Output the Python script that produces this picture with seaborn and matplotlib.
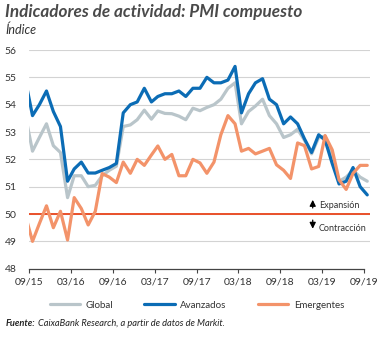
import numpy as np
import pandas as pd
import matplotlib
matplotlib.use("Agg")
import matplotlib.pyplot as plt
import matplotlib.dates as mdates
import seaborn as sns
from matplotlib.lines import Line2D

# ---- data (monthly, Aug 2015 .. Sep 2019) ----
months = pd.date_range("2015-08-01", "2019-09-01", freq="MS")
global_vals = [53.6, 52.3, 52.8, 53.3, 52.5, 52.25, 50.6, 51.4, 51.4, 51.0,
               51.05, 51.4, 51.6, 51.75, 53.2, 53.26, 53.45, 53.8, 53.47, 53.77,
               53.68, 53.67, 53.58, 53.45, 53.87, 53.78, 53.9, 54.0, 54.2, 54.6,
               54.8, 53.3, 53.75, 53.95, 54.2, 53.6, 53.3, 52.8, 52.9, 53.1,
               52.7, 52.2, 52.8, 52.85, 52.05, 51.2, 51.35, 51.6, 51.35, 51.2]
avanzados = [54.9, 53.6, 54.0, 54.5, 53.75, 53.2, 51.2, 51.65, 51.9, 51.5,
             51.5, 51.6, 51.7, 51.85, 53.7, 54.0, 54.1, 54.6, 54.1, 54.3,
             54.4, 54.4, 54.5, 54.3, 54.6, 54.6, 55.0, 54.8, 54.8, 54.9,
             55.4, 53.7, 54.4, 54.8, 54.95, 54.2, 54.0, 53.3, 53.55, 53.3,
             52.75, 52.25, 52.9, 52.7, 51.85, 51.1, 51.2, 51.7, 51.0, 50.7]
emergentes = [49.95, 49.0, 49.65, 50.3, 49.5, 50.1, 49.05, 50.6, 50.2, 49.6,
              50.1, 51.48, 51.35, 51.15, 51.9, 51.49, 52.0, 51.78, 52.16, 52.49,
              52.0, 52.18, 51.4, 51.4, 52.0, 51.87, 51.49, 51.9, 52.9, 53.6,
              53.3, 52.3, 52.4, 52.2, 52.3, 52.4, 51.8, 51.6, 51.3, 52.6,
              52.5, 51.65, 51.74, 52.87, 52.35, 51.25, 50.9, 51.49, 51.78, 51.78]
tick_dates = pd.date_range("2015-09-01", "2019-09-01", freq="6MS")
tick_labels = ["09/15", "03/16", "09/16", "03/17", "09/17", "03/18", "09/18", "03/19", "09/19"]
y_ticks = [48, 49, 50, 51, 52, 53, 54, 55, 56]
series_names = ["Global", "Avanzados", "Emergentes"]
threshold = 50

# ---- styling ----
sns.set_theme(style="white")
plt.rcParams["font.family"] = ["Lato", "DejaVu Sans"]

c_grey = "#b9c5ca"
c_blue = "#0b6cb5"
c_orange = "#f3936a"
c_red = "#e9502a"
c_text = "#333333"

dates = months + pd.Timedelta(days=14)
df = pd.DataFrame({"fecha": dates, "Global": global_vals,
                   "Avanzados": avanzados, "Emergentes": emergentes})
long = df.melt(id_vars="fecha", var_name="serie", value_name="valor")

fig = plt.figure(figsize=(3.84, 3.38), dpi=100)
ax = fig.add_axes([29.3 / 384, 1 - 268.7 / 338, (370 - 29.3) / 384, (268.7 - 50) / 338])

for y in y_ticks[1:]:
    ax.axhline(y, color="#d3d3d3", lw=0.8, zorder=0)
ax.axhline(threshold, color=c_red, lw=1.4, zorder=1)

sns.lineplot(data=long, x="fecha", y="valor", hue="serie",
             hue_order=series_names,
             palette={"Global": c_grey, "Avanzados": c_blue, "Emergentes": c_orange},
             lw=2.3, ax=ax, legend=False, zorder=3)

ax.set_ylim(48, 56)
ax.set_xlim(pd.Timestamp("2015-09-01"), pd.Timestamp("2019-09-27"))
ax.set_yticks(y_ticks)
ax.set_yticklabels([str(v) for v in y_ticks], fontsize=7.5, color=c_text, ha="right")
ax.tick_params(axis="y", length=0, pad=9)
ax.set_xticks(tick_dates)
ax.set_xticklabels(tick_labels, fontsize=7.5, color=c_text)
ax.tick_params(axis="x", length=3, width=0.8, color="#444444", direction="out", pad=3, bottom=True)
ax.set_xlabel("")
ax.set_ylabel("")
for s in ["left", "right", "top"]:
    ax.spines[s].set_visible(False)
ax.spines["bottom"].set_color("#444444")
ax.spines["bottom"].set_linewidth(0.9)
ax.spines["bottom"].set_bounds(mdates.date2num(pd.Timestamp("2015-09-01")),
                               mdates.date2num(pd.Timestamp("2019-09-01")))
ax.set_facecolor("white")

# Expansion / contraction annotations
ax_x = pd.Timestamp("2019-01-20")
ax.annotate("", xy=(ax_x, 50.62), xytext=(ax_x, 50.12),
            arrowprops=dict(arrowstyle="-|>,head_width=0.15,head_length=0.3", color="black", lw=0.9))
ax.annotate("", xy=(ax_x, 49.36), xytext=(ax_x, 49.88),
            arrowprops=dict(arrowstyle="-|>,head_width=0.15,head_length=0.3", color="black", lw=0.9))
ax.text(pd.Timestamp("2019-02-15"), 50.33, "Expansión", fontsize=6.5, color=c_text, va="center")
ax.text(pd.Timestamp("2019-02-15"), 49.48, "Contracción", fontsize=6.5, color=c_text, va="center")

# Legend
handles = [Line2D([0], [0], color=c, lw=2.3) for c in (c_grey, c_blue, c_orange)]
fig.legend(handles, series_names, loc="center", bbox_to_anchor=(197 / 384, 1 - 305 / 338),
           ncol=3, frameon=False, fontsize=7, handlelength=3.1, columnspacing=3.2,
           handletextpad=0.6, labelcolor=c_text)

# Titles
fig.text(5 / 384, 1 - 12 / 338, "Indicadores de actividad: PMI compuesto",
         fontsize=12.3, fontweight="bold", fontstyle="italic", color="#4a4a4a", va="center")
fig.text(5 / 384, 1 - 30 / 338, "Índice", fontsize=9, fontstyle="italic",
         color="#333333", va="center")
src = fig.text(6 / 384, 1 - 326 / 338, "Fuente:", fontsize=6.7, fontweight="bold",
               fontstyle="italic", color="#222222", va="baseline")
fig.canvas.draw()
src2 = plt.annotate("CaixaBank Research, a partir de datos de Markit.",
                    xy=(1, 0), xycoords=src, xytext=(1.5, 0), textcoords="offset points",
                    va="bottom", ha="left",
                    fontsize=6.7, fontstyle="italic", color="#222222")
src2.set_annotation_clip(False)

fig.savefig("out.png", dpi=100, facecolor="white")
